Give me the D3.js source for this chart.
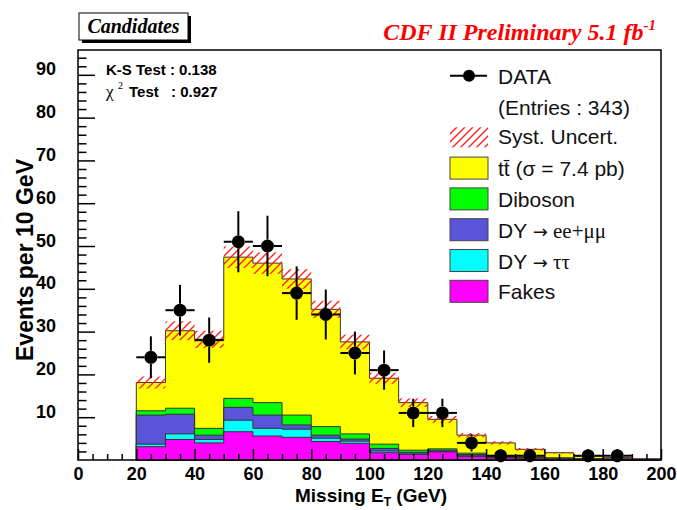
<!DOCTYPE html>
<html>
<head>
<meta charset="utf-8">
<script src="https://cdn.jsdelivr.net/npm/d3@7"></script>
<style>
  body { margin: 0; background: #fff; }
  svg { display: block; }
  .tick text { font-family: "Liberation Sans", Arial, sans-serif; font-weight: bold; font-size: 18px; fill: #000; }
</style>
</head>
<body>
<div id="chart"></div>
<script>
// bin low edges (GeV), 10 GeV wide
const binEdges = [20, 30, 40, 50, 60, 70, 80, 90, 100, 110, 120, 130, 140, 150, 160, 170, 180, 190];

// MC components per bin (events)
const fakes    = [3.1, 4.8, 4.0, 6.6, 5.6, 5.3, 4.3, 3.9, 1.7, 1.3, 1.9, 0.8, 0.5, 0.4, 0.3, 0.2, 0.2, 0.1];
const dyTauTau = [0.6, 1.3, 0.8, 2.7, 1.8, 1.9, 0.8, 0.5, 0.4, 0.3, 0.1, 0.2, 0.1, 0.1, 0.1, 0.0, 0.0, 0.0];
const dyEEMuMu = [6.8, 4.6, 1.0, 3.0, 3.1, 1.0, 0.7, 0.5, 0.6, 0.2, 0.3, 0.3, 0.1, 0.1, 0.0, 0.0, 0.0, 0.0];
const diboson  = [1.0, 1.4, 1.6, 2.1, 2.9, 2.3, 2.0, 1.2, 1.0, 0.5, 0.3, 0.3, 0.2, 0.1, 0.1, 0.1, 0.0, 0.0];
const ttbar    = [6.6, 18.1, 20.8, 33.0, 32.6, 31.8, 27.4, 21.5, 15.4, 11.1, 6.9, 4.2, 3.1, 1.8, 1.2, 0.6, 0.4, 0.2];
const systUnc  = [1.4, 2.2, 2.0, 2.5, 2.5, 2.3, 2.0, 1.7, 1.3, 1.0, 0.8, 0.5, 0.4, 0.3, 0.2, 0.1, 0.1, 0.1];

// data points (bin centres)
const dataX = [25, 35, 45, 55, 65, 75, 85, 95, 105, 115, 125, 135, 145, 155, 175, 185];
const dataY = [24, 35, 28, 51, 50, 39, 34, 25, 21, 11, 11, 4, 1, 1, 1, 1];

const xTicks = [0, 20, 40, 60, 80, 100, 120, 140, 160, 180, 200];
const yTicks = [10, 20, 30, 40, 50, 60, 70, 80, 90];

// legend labels: [plain part, arrow, serif greek part]
const layers = [
    { label: ['Fakes'], values: fakes, color: '#ff00ff' },
    { label: ['DY ', '→', ' ττ'], values: dyTauTau, color: '#00ffff' },
    { label: ['DY ', '→', ' ee+μμ'], values: dyEEMuMu, color: '#5954d8' },
    { label: ['Diboson'], values: diboson, color: '#00ff00' },
    { label: ['tt̄ (σ = 7.4 pb)'], values: ttbar, color: '#ffff00' }
];

const W = 677, H = 510;
const svg = d3.select('#chart').append('svg').attr('width', W).attr('height', H);

const x = d3.scaleLinear().domain([0, 200]).range([78, 661]);
const y = d3.scaleLinear().domain([0, 95.8]).range([460, 50]);

// hatch pattern for syst. uncertainty
const defs = svg.append('defs');
const pat = defs.append('pattern')
    .attr('id', 'hatch')
    .attr('patternUnits', 'userSpaceOnUse')
    .attr('width', 8).attr('height', 8);
pat.append('path')
    .attr('d', 'M-2,2 L2,-2 M0,8 L8,0 M6,10 L10,6')
    .attr('stroke', '#ff2020')
    .attr('stroke-width', 1.4);

// cumulative stack
let cum = binEdges.map(() => 0);
const stacked = layers.map(l => {
    cum = cum.map((c, i) => c + l.values[i]);
    return { ...l, top: cum.slice() };
});
const total = cum;

const stepArea = d3.area()
    .curve(d3.curveStepAfter)
    .x(d => x(d.x))
    .y0(y(0))
    .y1(d => y(d.v));

function stepPoints(vals) {
    const pts = binEdges.map((e, i) => ({ x: e, v: vals[i] }));
    pts.push({ x: 200, v: vals[vals.length - 1] });
    return pts;
}

// draw from tallest (top of stack) down
stacked.slice().reverse().forEach(l => {
    svg.append('path')
        .attr('d', stepArea(stepPoints(l.top)))
        .attr('fill', l.color)
        .attr('stroke', '#333')
        .attr('stroke-width', 1);
});

// syst. uncertainty band
svg.append('g').selectAll('rect')
    .data(binEdges)
    .join('rect')
    .attr('x', d => x(d))
    .attr('width', x(10) - x(0))
    .attr('y', (d, i) => y(total[i] + systUnc[i]))
    .attr('height', (d, i) => y(Math.max(0, total[i] - systUnc[i])) - y(total[i] + systUnc[i]))
    .attr('fill', 'url(#hatch)');

// axes
const yMajor = d3.axisLeft(y).tickValues(yTicks).tickSize(-17).tickPadding(22).tickFormat(d3.format('d'));
const yMinor = d3.axisLeft(y).tickValues(d3.range(0, 96, 2).filter(v => v % 10 !== 0)).tickSize(-8.5).tickFormat('');
const xMajor = d3.axisBottom(x).tickValues(xTicks).tickSize(-11).tickPadding(20).tickFormat(d3.format('d'));
const xMinor = d3.axisBottom(x).tickValues(d3.range(5, 200, 5).filter(v => v % 20 !== 0)).tickSize(-6).tickFormat('');

[yMajor, yMinor].forEach(a => {
    const g = svg.append('g').attr('transform', `translate(${x(0)},0)`).call(a);
    g.select('.domain').remove();
    g.selectAll('line').attr('stroke', '#000').attr('stroke-width', 1.5);
});
[xMajor, xMinor].forEach(a => {
    const g = svg.append('g').attr('transform', `translate(0,${y(0)})`).call(a);
    g.select('.domain').remove();
    g.selectAll('line').attr('stroke', '#000').attr('stroke-width', 1.5);
});
svg.selectAll('.tick text').attr('dy', null);

// frame
svg.append('rect')
    .attr('x', x(0)).attr('y', y(95.8))
    .attr('width', x(200) - x(0)).attr('height', y(0) - y(95.8))
    .attr('fill', 'none').attr('stroke', '#000').attr('stroke-width', 1.5);

// data points with errors
const halfBin = 5, gap = 6.5;
const dg = svg.append('g').attr('stroke', '#000').attr('stroke-width', 2);
dataX.forEach((cx, i) => {
    const v = dataY[i], e = Math.sqrt(v);
    const px = x(cx), py = y(v);
    dg.append('line').attr('x1', x(cx - halfBin)).attr('x2', px - gap).attr('y1', py).attr('y2', py);
    dg.append('line').attr('x1', px + gap).attr('x2', x(cx + halfBin)).attr('y1', py).attr('y2', py);
    dg.append('line').attr('x1', px).attr('x2', px).attr('y1', y(v + e)).attr('y2', py - gap);
    dg.append('line').attr('x1', px).attr('x2', px).attr('y1', py + gap).attr('y2', y(Math.max(0, v - e)));
});
svg.append('g').selectAll('circle')
    .data(dataX)
    .join('circle')
    .attr('cx', d => x(d))
    .attr('cy', (d, i) => y(dataY[i]))
    .attr('r', 6.5)
    .attr('fill', '#000');

// axis titles
svg.append('text')
    .attr('transform', 'translate(33,260) rotate(-90)')
    .attr('text-anchor', 'middle')
    .style('font', 'bold 23px "Liberation Sans", Arial, sans-serif')
    .text('Events per 10 GeV');

const xt = svg.append('text')
    .attr('x', 371).attr('y', 502)
    .attr('text-anchor', 'middle')
    .style('font', 'bold 19px "Liberation Sans", Arial, sans-serif');
xt.append('tspan').text('Missing E');
xt.append('tspan').attr('dy', 4).style('font-size', '12px').text('T');
xt.append('tspan').attr('dy', -4).text(' (GeV)');

// stats
const stats = svg.append('g').style('font', 'bold 15px "Liberation Sans", Arial, sans-serif');
stats.append('text').attr('x', 106).attr('y', 75).text('K-S Test : 0.138');
stats.append('text').attr('x', 106).attr('y', 97)
    .style('font', '17px "Liberation Serif", serif').text('χ');
stats.append('text').attr('x', 118).attr('y', 89)
    .style('font', '10px "Liberation Serif", serif').text('2');
stats.append('text').attr('x', 129).attr('y', 97).text('Test');
stats.append('text').attr('x', 171).attr('y', 97).text(': 0.927');

// title
const title = svg.append('text')
    .attr('x', 656).attr('y', 40)
    .attr('text-anchor', 'end')
    .attr('fill', '#ff0000')
    .style('font', 'bold italic 24px "Liberation Serif", serif');
title.append('tspan').text('CDF II Preliminary 5.1 fb');
title.append('tspan').attr('dy', -10).style('font-size', '15px').text('-1');

// candidates box
svg.append('rect').attr('x', 82).attr('y', 16).attr('width', 109).attr('height', 27).attr('fill', '#000');
svg.append('rect').attr('x', 79).attr('y', 13).attr('width', 109).attr('height', 27)
    .attr('fill', '#fff').attr('stroke', '#000').attr('stroke-width', 1);
svg.append('text').attr('x', 133.5).attr('y', 33).attr('text-anchor', 'middle')
    .style('font', 'bold italic 20px "Liberation Serif", serif')
    .text('Candidates');

// legend
const leg = svg.append('g').style('font', '21px "Liberation Sans", Arial, sans-serif').attr('fill', '#111');
const lx = 450, tx = 498, rowH = 30.8, row0 = 75.7;
leg.append('line').attr('x1', lx).attr('x2', 487).attr('y1', row0).attr('y2', row0)
    .attr('stroke', '#000').attr('stroke-width', 2);
leg.append('circle').attr('cx', 469).attr('cy', row0).attr('r', 6).attr('fill', '#000');
leg.append('text').attr('x', tx).attr('y', row0 + 8).text('DATA');
leg.append('text').attr('x', tx).attr('y', row0 + rowH + 8).text('(Entries : 343)');
leg.append('rect').attr('x', lx).attr('y', row0 + 2 * rowH - 10).attr('width', 38).attr('height', 20)
    .attr('fill', 'url(#hatch)');
leg.append('text').attr('x', tx).attr('y', row0 + 2 * rowH + 7).text('Syst. Uncert.');
layers.slice().reverse().forEach((l, i) => {
    const cy = row0 + (i + 3) * rowH;
    leg.append('rect').attr('x', lx).attr('y', cy - 11).attr('width', 38).attr('height', 22)
        .attr('fill', l.color).attr('stroke', '#444').attr('stroke-width', 1);
    const t = leg.append('text').attr('x', tx).attr('y', cy + 8);
    t.append('tspan').text(l.label[0]);
    if (l.label.length > 1) {
        t.append('tspan').style('font-family', '"DejaVu Sans", sans-serif').style('font-size', '18px').text(l.label[1]);
        t.append('tspan').style('font-family', '"Liberation Serif", serif').text(l.label[2].replace(' ', '\u00a0'));
    }
});
</script>
</body>
</html>
